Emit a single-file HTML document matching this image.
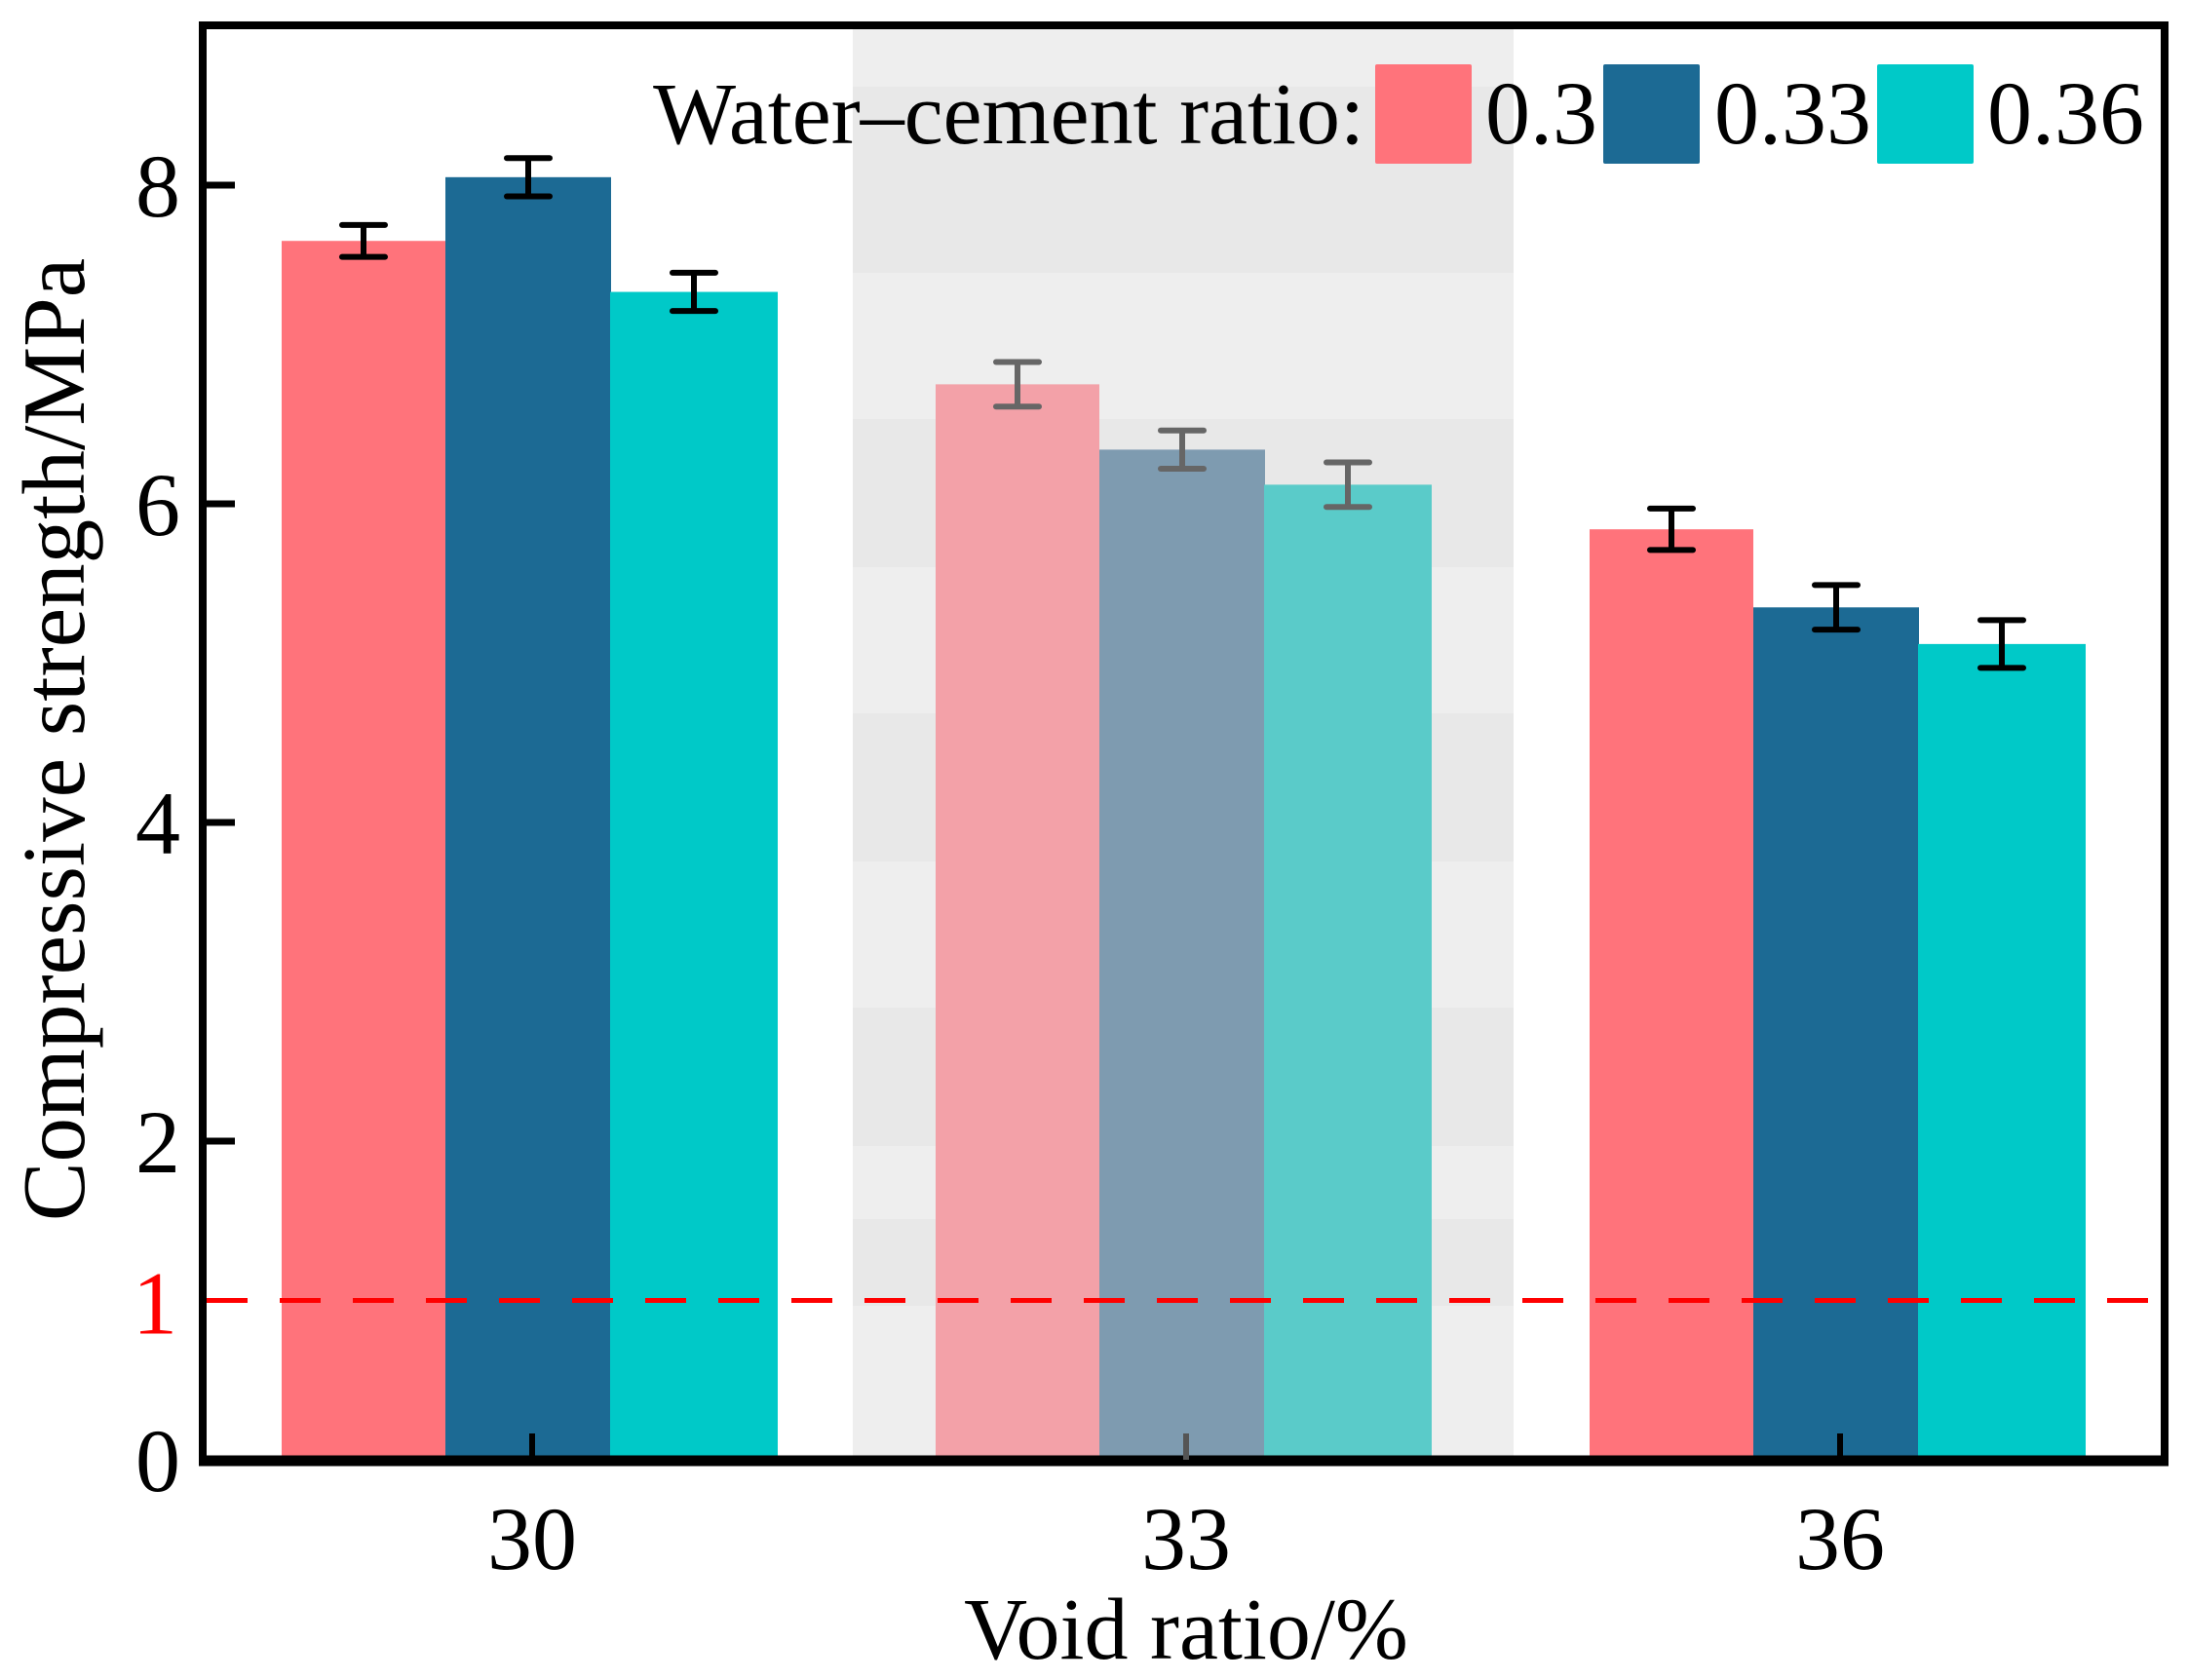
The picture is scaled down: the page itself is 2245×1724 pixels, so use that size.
<!DOCTYPE html>
<html><head><meta charset="utf-8"><style>
html,body{margin:0;padding:0;background:#fff;}
svg{display:block;font-family:"Liberation Serif",serif;}
</style></head><body>
<svg id="chart" width="2245" height="1724" viewBox="0 0 2245 1724" xmlns="http://www.w3.org/2000/svg">
<g id="bg"></g>
<g id="bars"></g>
<g id="frame"></g>
<text transform="translate(86,759) rotate(-90)" text-anchor="middle" font-size="91">Compressive strength/MPa</text>
<text x="1217" y="1702" text-anchor="middle" font-size="90">Void ratio/%</text>
<g>
<text x="1400" y="147" text-anchor="end" font-size="90">Water–cement ratio:</text>
<rect x="1411" y="66" width="99" height="102" rx="2" fill="#ff737b"/>
<text x="1524" y="147" font-size="92">0.3</text>
<rect x="1645" y="66" width="99" height="102" rx="2" fill="#1c6a94"/>
<text x="1759" y="147" font-size="92">0.33</text>
<rect x="1926" y="66" width="99" height="102" rx="2" fill="#00c9c8"/>
<text x="2039" y="147" font-size="92">0.36</text>
</g>
</svg>
<script>
const categories = ["30", "33", "36"];
const series0 = [7.65, 6.75, 5.84];
const series1 = [8.05, 6.34, 5.35];
const series2 = [7.33, 6.12, 5.12];
const err0 = [0.10, 0.14, 0.13];
const err1 = [0.12, 0.12, 0.14];
const err2 = [0.12, 0.14, 0.15];
const yTicks = [0, 2, 4, 6, 8];
const threshold = 1;

const NS = "http://www.w3.org/2000/svg";
const L = 208, R = 2221, T = 26, B = 1498;
function yS(v){ return B - v * 163.5; }
function xC(i){ return 546 + i * 671; }
function mk(tag, attrs, parent){ const e = document.createElementNS(NS, tag); for (const k in attrs) e.setAttribute(k, attrs[k]); parent.appendChild(e); return e; }
const bg = document.getElementById('bg'), bars = document.getElementById('bars'), frame = document.getElementById('frame');

const band = mk('rect', {x: xC(1) - 342, y: T + 3, width: 678, height: B - T - 3, fill: '#e8e8e8'}, bg);


[[T+3, 60],[280, 150],[582,150],[884,150],[1176,75],[1340,160]].forEach(([y,h])=>{
  mk('rect', {x: xC(1) - 342, y: y, width: 678, height: h, fill: '#eeeeee'}, bg);
});

const colors = ['#ff737b', '#1c6a94', '#00c9c8'];
const fadedColors = ['#f3a1a8', '#7e9bb0', '#5acbc9'];
const allSeries = [series0, series1, series2];
const allErr = [err0, err1, err2];
const offsets = [-257, -89, 80];
const widths = [168, 170, 172];
for (let c = 0; c < categories.length; c++) {
  for (let s = 0; s < 3; s++) {
    const v = allSeries[s][c];
    const x = xC(c) + offsets[s];
    const rect = mk('rect', {x: x, y: yS(v), width: widths[s], height: B - yS(v), fill: c === 1 ? fadedColors[s] : colors[s]}, bars);
    
    
    const cx = x + widths[s] / 2, e = allErr[s][c];
    const col = c === 1 ? '#666' : '#000';
    const g = mk('g', {stroke: col, 'stroke-width': 6, fill: 'none'}, bars);
    
    
    mk('line', {x1: cx, x2: cx, y1: yS(v + e), y2: yS(v - e)}, g);
    mk('line', {x1: cx - 22, x2: cx + 22, y1: yS(v + e), y2: yS(v + e), 'stroke-linecap': 'round'}, g);
    mk('line', {x1: cx - 22, x2: cx + 22, y1: yS(v - e), y2: yS(v - e), 'stroke-linecap': 'round'}, g);
  }
}
const th = mk('line', {x1: L + 4, x2: R, y1: yS(threshold), y2: yS(threshold), stroke: '#ff0000', 'stroke-width': 5, 'stroke-dasharray': '42 33'}, frame);


const thl = mk('text', {x: 182, y: yS(threshold) + 34, 'text-anchor': 'end', 'font-size': 92, fill: '#ff0000'}, frame);
thl.textContent = String(threshold);



const box = mk('rect', {x: L, y: T, width: R - L, height: B - T, fill: 'none', stroke: '#000', 'stroke-width': 8}, frame);


const bl = mk('line', {x1: L - 4, x2: R + 4, y1: B + 1, y2: B + 1, stroke: '#000', 'stroke-width': 11}, frame);



yTicks.forEach(t => {
  const y = yS(t);
  const tk = mk('line', {x1: L, x2: L + 33, y1: y, y2: y, stroke: '#000', 'stroke-width': 7}, frame);
  
  
  const lb = mk('text', {x: 185, y: y + 32, 'text-anchor': 'end', 'font-size': 92}, frame);
  lb.textContent = String(t);
  
  
});
categories.forEach((cat, i) => {
  const x = xC(i);
  const tk = mk('line', {x1: x, x2: x, y1: B, y2: B - 27, stroke: i === 1 ? '#555' : '#000', 'stroke-width': 6}, frame);
  
  
  const lb = mk('text', {x: x, y: 1610, 'text-anchor': 'middle', 'font-size': 92}, frame);
  lb.textContent = cat;
  
  
});
</script>
</body></html>
